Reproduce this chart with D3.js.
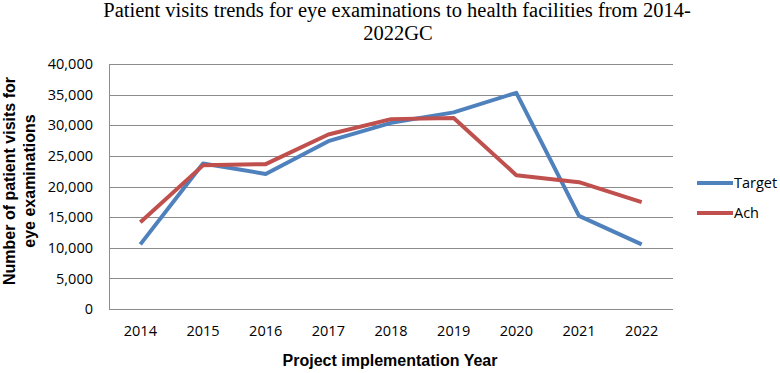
<!DOCTYPE html>
<html lang="en">
<head>
<meta charset="utf-8">
<script src="https://d3js.org/d3.v7.min.js"></script>
<style>
body { margin: 0; background: #fff; }
.grid line { stroke: #8c8c8c; stroke-width: 1; shape-rendering: crispEdges; }
.axis path, .axis line { stroke: #8c8c8c; shape-rendering: crispEdges; }
.axis text { font-family: "Open Sans", "Liberation Sans", sans-serif; font-size: 14.5px; fill: #000; }
</style>
</head>
<body>
<svg id="chart" width="780" height="373"></svg>
<script>
// chart data
var years = ["2014", "2015", "2016", "2017", "2018", "2019", "2020", "2021", "2022"];
var target = [10550, 23750, 22050, 27400, 30400, 32100, 35300, 15200, 10550];
var ach = [14150, 23450, 23650, 28500, 31000, 31200, 21850, 20700, 17450];
var yTicks = [0, 5000, 10000, 15000, 20000, 25000, 30000, 35000, 40000];
var seriesNames = ["Target", "Ach"];
var colors = ["#4f81bd", "#c0504d"];

var margin = {top: 64, right: 107, bottom: 64, left: 109},
    width = 780 - margin.left - margin.right,
    height = 373 - margin.top - margin.bottom;

var svg = d3.select("#chart");
var g = svg.append("g")
    .attr("transform", "translate(" + margin.left + "," + margin.top + ")");

var x = d3.scaleBand().domain(years).range([0, width]);
var y = d3.scaleLinear().domain([0, 40000]).range([height, 0]);

// gridlines
g.append("g").attr("class", "grid")
  .selectAll("line")
  .data(yTicks)
  .enter().append("line")
    .attr("x1", 0).attr("x2", width)
    .attr("y1", function(d) { return Math.round(y(d)) + 0.5; })
    .attr("y2", function(d) { return Math.round(y(d)) + 0.5; });

// y axis
g.append("g").attr("class", "axis")
    .call(d3.axisLeft(y).tickValues(yTicks).tickSize(0).tickPadding(16).tickFormat(d3.format(",")));

// x axis
var xAxis = g.append("g").attr("class", "axis")
    .attr("transform", "translate(0," + height + ")")
    .call(d3.axisBottom(x).tickSize(0).tickPadding(17));
xAxis.select(".domain").remove();
g.append("line")
    .attr("x1", 0).attr("x2", width)
    .attr("y1", height + 0.5).attr("y2", height + 0.5)
    .attr("stroke", "#8c8c8c");

// lines
var line = d3.line()
    .x(function(d, i) { return x(years[i]) + x.bandwidth() / 2; })
    .y(function(d) { return y(d); });

[target, ach].forEach(function(vals, k) {
  g.append("path")
    .datum(vals)
    .attr("d", line)
    .attr("fill", "none")
    .attr("stroke", colors[k])
    .attr("stroke-width", 4)
    .attr("stroke-linejoin", "round");
});

// legend
var legend = svg.append("g").attr("transform", "translate(697,183)");
seriesNames.forEach(function(name, k) {
  var row = legend.append("g").attr("transform", "translate(0," + (k * 30) + ")");
  row.append("line")
    .attr("x1", 0).attr("x2", 36)
    .attr("stroke", colors[k]).attr("stroke-width", 4);
  row.append("text")
    .attr("x", 37).attr("y", 5)
    .style("font-family", "'Open Sans', 'Liberation Sans', sans-serif")
    .style("font-size", "14.5px")
    .text(name);
});

// title
var title = svg.append("text")
    .attr("text-anchor", "middle")
    .style("font-family", "'Liberation Serif', 'Times New Roman', serif")
    .style("font-size", "20.5px");
title.append("tspan").attr("x", 397).attr("y", 17)
    .text("Patient visits trends for eye examinations to health facilities from 2014-");
title.append("tspan").attr("x", 398).attr("y", 40).text("2022GC");

// axis titles
svg.append("text")
    .attr("x", 390).attr("y", 366)
    .attr("text-anchor", "middle")
    .style("font-family", "'Liberation Sans', Arial, sans-serif")
    .style("font-weight", "bold")
    .style("font-size", "16px")
    .text("Project implementation Year");

var yt = svg.append("text")
    .attr("transform", "translate(0,181) rotate(-90)")
    .attr("text-anchor", "middle")
    .style("font-family", "'Liberation Sans', Arial, sans-serif")
    .style("font-weight", "bold")
    .style("font-size", "16px");
yt.append("tspan").attr("x", 0).attr("y", 15).text("Number of patient visits for");
yt.append("tspan").attr("x", 0).attr("y", 35).text("eye examinations");
</script>
</body>
</html>
